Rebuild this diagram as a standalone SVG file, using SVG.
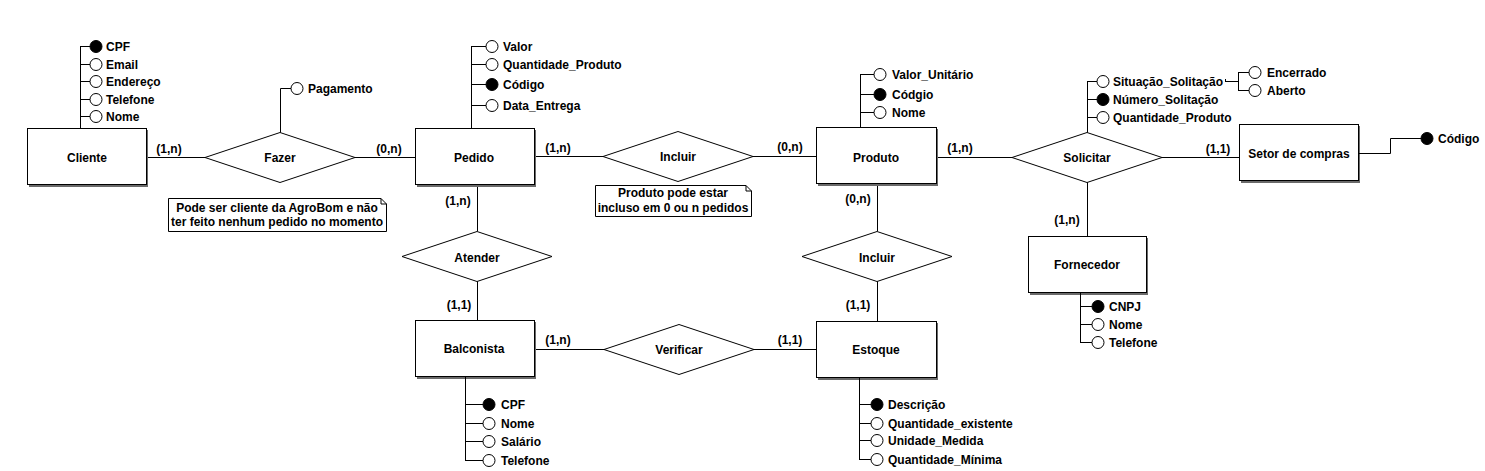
<svg xmlns="http://www.w3.org/2000/svg" width="1485" height="471" viewBox="0 0 1485 471">
<style>
  text { font-family: "Liberation Sans", Arial, sans-serif; font-weight: bold; font-size: 12px; fill: #000; }
  .c { text-anchor: middle; }
  .ent { fill: #fff; stroke: #000; stroke-width: 1; }
  .sh { fill: #6a6a6a; }
  .rel { fill: #fff; stroke: #000; stroke-width: 1; }
  .ln { fill: none; stroke: #000; stroke-width: 1; }
  .att { fill: #fff; stroke: #000; stroke-width: 1; }
  .key { fill: #000; stroke: #000; stroke-width: 1; }
  .note { fill: #fff; stroke: #000; stroke-width: 1; }
</style>
<rect x="0" y="0" width="1485" height="471" fill="#fff"/>

<g id="connectors" class="ln">
  <path d="M146.5,157.5 H205"/>
  <path d="M355,157.5 H415"/>
  <path d="M534,156.5 H603"/>
  <path d="M753,156.5 H816"/>
  <path d="M936,157.5 H1012"/>
  <path d="M1162,157.5 H1239"/>
  <path d="M1087.5,182 V236"/>
  <path d="M477.5,185 V231"/>
  <path d="M477.5,281 V320"/>
  <path d="M877.5,184 V231"/>
  <path d="M877.5,281 V321"/>
  <path d="M534,349.5 H604"/>
  <path d="M754,349.5 H816"/>
</g>

<g id="cardinalities">
  <text class="c" x="169" y="153">(1,n)</text>
  <text class="c" x="389" y="153">(0,n)</text>
  <text class="c" x="558" y="152">(1,n)</text>
  <text class="c" x="790" y="151">(0,n)</text>
  <text class="c" x="960" y="152">(1,n)</text>
  <text class="c" x="1218" y="153">(1,1)</text>
  <text class="c" x="458" y="205">(1,n)</text>
  <text class="c" x="459" y="309">(1,1)</text>
  <text class="c" x="858" y="203">(0,n)</text>
  <text class="c" x="858" y="309">(1,1)</text>
  <text class="c" x="1067" y="224">(1,n)</text>
  <text class="c" x="558" y="344">(1,n)</text>
  <text class="c" x="790" y="344">(1,1)</text>
</g>

<g id="cliente">
  <rect class="sh" x="29" y="130" width="119" height="57"/>
  <rect class="ent" x="27.5" y="128.5" width="119" height="56"/>
  <text class="c" x="87" y="161.5">Cliente</text>
  <path class="ln" d="M80.5,128 V46.5 M80,46.5 H90 M80,64.5 H90 M80,81.5 H90 M80,99.5 H90 M80,116.5 H90"/>
  <circle class="key" cx="96" cy="46.5" r="6"/>
  <circle class="att" cx="96" cy="64.5" r="6"/>
  <circle class="att" cx="96" cy="81.5" r="6"/>
  <circle class="att" cx="96" cy="99.5" r="6"/>
  <circle class="att" cx="96" cy="116.5" r="6"/>
  <text x="106" y="51">CPF</text>
  <text x="106" y="69">Email</text>
  <text x="106" y="86">Endereço</text>
  <text x="106" y="104">Telefone</text>
  <text x="106" y="121">Nome</text>
</g>

<g id="fazer">
  <polygon class="rel" points="205,157.5 280,132.5 355,157.5 280,182.5"/>
  <text class="c" x="280" y="162">Fazer</text>
  <path class="ln" d="M280.5,132.5 V88.5 H291"/>
  <circle class="att" cx="297" cy="88.5" r="6"/>
  <text x="308" y="93">Pagamento</text>
</g>

<g id="nota-cliente">
  <path class="note" d="M168.5,198.5 H381 L386.5,204 V231.5 H168.5 Z"/>
  <path class="ln" d="M381,198.5 V204 H386.5"/>
  <text class="c" x="277" y="211.5">Pode ser cliente da AgroBom e não</text>
  <text class="c" x="277" y="225.5">ter feito nenhum pedido no momento</text>
</g>

<g id="pedido">
  <rect class="sh" x="417" y="130" width="119" height="57"/>
  <rect class="ent" x="415.5" y="128.5" width="119" height="56"/>
  <text class="c" x="474" y="161.5">Pedido</text>
  <path class="ln" d="M471.5,128 V46.5 M471,46.5 H486 M471,64.5 H486 M471,84.5 H486 M471,105.5 H486"/>
  <circle class="att" cx="492" cy="46.5" r="6"/>
  <circle class="att" cx="492" cy="64.5" r="6"/>
  <circle class="key" cx="492" cy="84.5" r="6"/>
  <circle class="att" cx="492" cy="105.5" r="6"/>
  <text x="503" y="51">Valor</text>
  <text x="503" y="69">Quantidade_Produto</text>
  <text x="503" y="89">Código</text>
  <text x="503" y="110">Data_Entrega</text>
</g>

<g id="incluir-pedido-produto">
  <polygon class="rel" points="603,156.5 678,131.5 753,156.5 678,181.5"/>
  <text class="c" x="678" y="161">Incluir</text>
</g>

<g id="nota-produto">
  <path class="note" d="M595.5,185.5 H746 L751.5,191 V216.5 H595.5 Z"/>
  <path class="ln" d="M746,185.5 V191 H751.5"/>
  <text class="c" x="673" y="197">Produto pode estar</text>
  <text class="c" x="673" y="212">incluso em 0 ou n pedidos</text>
</g>

<g id="produto">
  <rect class="sh" x="818" y="129" width="120" height="57"/>
  <rect class="ent" x="816.5" y="127.5" width="120" height="56"/>
  <text class="c" x="876" y="161.5">Produto</text>
  <path class="ln" d="M860.5,127 V74.5 M860,74.5 H874 M860,94.5 H874 M860,112.5 H874"/>
  <circle class="att" cx="880" cy="74.5" r="6"/>
  <circle class="key" cx="880" cy="94.5" r="6"/>
  <circle class="att" cx="880" cy="112.5" r="6"/>
  <text x="892" y="79">Valor_Unitário</text>
  <text x="892" y="99">Códgio</text>
  <text x="892" y="117">Nome</text>
</g>

<g id="solicitar">
  <polygon class="rel" points="1012,157.5 1087,132.5 1162,157.5 1087,182.5"/>
  <text class="c" x="1087" y="162">Solicitar</text>
  <path class="ln" d="M1087.5,132.5 V81.5 M1087,81.5 H1097 M1087,99.5 H1097 M1087,117.5 H1097"/>
  <circle class="att" cx="1103" cy="81.5" r="6"/>
  <circle class="key" cx="1103" cy="99.5" r="6"/>
  <circle class="att" cx="1103" cy="117.5" r="6"/>
  <text x="1113" y="86">Situação_Solitação</text>
  <text x="1113" y="104">Número_Solitação</text>
  <text x="1113" y="122">Quantidade_Produto</text>
  <path class="ln" d="M1225.5,79 V82 M1226,81.5 H1238.5 M1238.5,72.5 V90.5 M1238,72.5 H1249 M1238,90.5 H1249"/>
  <circle class="att" cx="1255" cy="72.5" r="6"/>
  <circle class="att" cx="1255" cy="90.5" r="6"/>
  <text x="1267" y="77">Encerrado</text>
  <text x="1267" y="95">Aberto</text>
</g>

<g id="setor-de-compras">
  <rect class="sh" x="1241" y="126" width="119" height="57"/>
  <rect class="ent" x="1239.5" y="124.5" width="119" height="56"/>
  <text class="c" x="1299" y="158">Setor de compras</text>
  <path class="ln" d="M1359,153.5 H1390.5 V138.5 H1421"/>
  <circle class="key" cx="1427" cy="138.5" r="6"/>
  <text x="1438" y="143">Código</text>
</g>

<g id="fornecedor">
  <rect class="sh" x="1030" y="238" width="118" height="57"/>
  <rect class="ent" x="1028.5" y="236.5" width="118" height="56"/>
  <text class="c" x="1087" y="269">Fornecedor</text>
  <path class="ln" d="M1080.5,293 V342.5 M1080,306.5 H1092 M1080,324.5 H1092 M1080,342.5 H1092"/>
  <circle class="key" cx="1098" cy="306.5" r="6"/>
  <circle class="att" cx="1098" cy="324.5" r="6"/>
  <circle class="att" cx="1098" cy="342.5" r="6"/>
  <text x="1109" y="311">CNPJ</text>
  <text x="1109" y="329">Nome</text>
  <text x="1109" y="347">Telefone</text>
</g>

<g id="atender">
  <polygon class="rel" points="402,256.5 477,231.5 552,256.5 477,281.5"/>
  <text class="c" x="477" y="262">Atender</text>
</g>

<g id="incluir-produto-estoque">
  <polygon class="rel" points="802,256.5 877,231.5 952,256.5 877,281.5"/>
  <text class="c" x="877" y="262">Incluir</text>
</g>

<g id="balconista">
  <rect class="sh" x="417" y="322" width="119" height="57"/>
  <rect class="ent" x="415.5" y="320.5" width="119" height="56"/>
  <text class="c" x="474" y="353">Balconista</text>
  <path class="ln" d="M465.5,377 V460.5 M465,404.5 H483 M465,423.5 H483 M465,441.5 H483 M465,460.5 H483"/>
  <circle class="key" cx="489" cy="404.5" r="6"/>
  <circle class="att" cx="489" cy="423.5" r="6"/>
  <circle class="att" cx="489" cy="441.5" r="6"/>
  <circle class="att" cx="489" cy="460.5" r="6"/>
  <text x="501" y="409">CPF</text>
  <text x="501" y="428">Nome</text>
  <text x="501" y="446">Salário</text>
  <text x="501" y="465">Telefone</text>
</g>

<g id="verificar">
  <polygon class="rel" points="604,349.5 679,324.5 754,349.5 679,374.5"/>
  <text class="c" x="679" y="354">Verificar</text>
</g>

<g id="estoque">
  <rect class="sh" x="818" y="323" width="120" height="57"/>
  <rect class="ent" x="816.5" y="321.5" width="120" height="56"/>
  <text class="c" x="876" y="354">Estoque</text>
  <path class="ln" d="M859.5,378 V459.5 M859,404.5 H871 M859,423.5 H871 M859,440.5 H871 M859,459.5 H871"/>
  <circle class="key" cx="877" cy="404.5" r="6"/>
  <circle class="att" cx="877" cy="423.5" r="6"/>
  <circle class="att" cx="877" cy="440.5" r="6"/>
  <circle class="att" cx="877" cy="459.5" r="6"/>
  <text x="888" y="409">Descrição</text>
  <text x="888" y="428">Quantidade_existente</text>
  <text x="888" y="445">Unidade_Medida</text>
  <text x="888" y="464">Quantidade_Mínima</text>
</g>
</svg>
